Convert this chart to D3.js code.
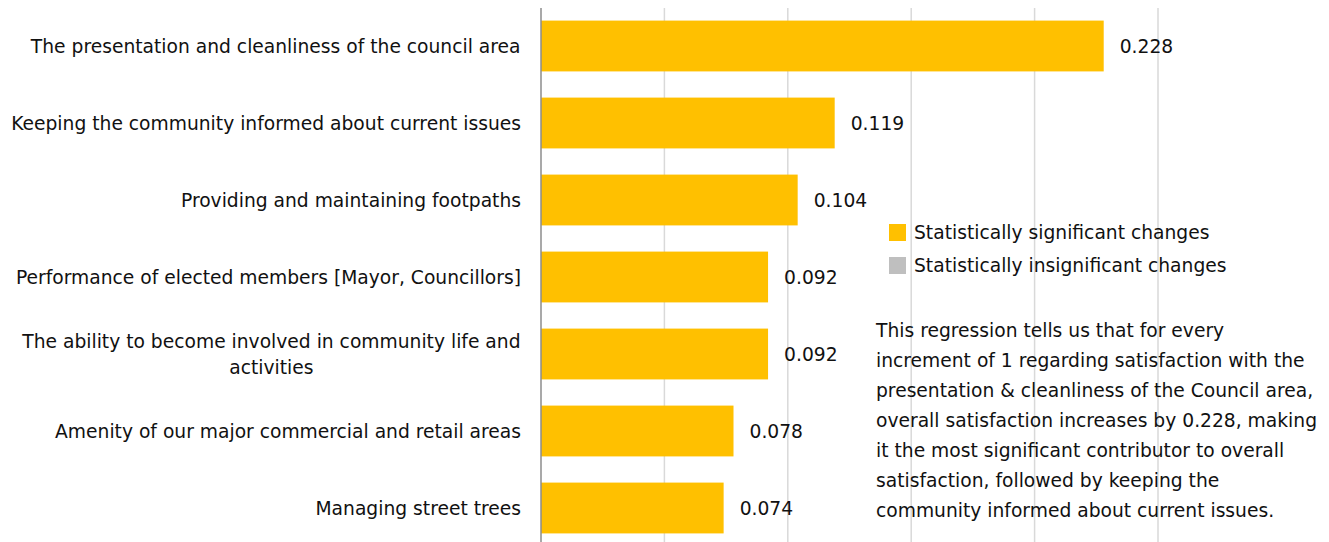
<!DOCTYPE html>
<html>
<head>
<meta charset="utf-8">
<script src="https://cdn.jsdelivr.net/npm/d3@7"></script>
<style>
  html, body { margin: 0; padding: 0; background: #fff; }
  svg text { font-family: "DejaVu Sans", sans-serif; fill: #111; }
</style>
</head>
<body>
<svg id="chart" width="1329" height="542"></svg>
<script>
// Regression coefficients for each service attribute
const categories = [
  ["The presentation and cleanliness of the council area"],
  ["Keeping the community informed about current issues"],
  ["Providing and maintaining footpaths"],
  ["Performance of elected members [Mayor, Councillors]"],
  ["The ability to become involved in community life and", "activities"],
  ["Amenity of our major commercial and retail areas"],
  ["Managing street trees"]
];
const values = [0.228, 0.119, 0.104, 0.092, 0.092, 0.078, 0.074];
const significant = [true, true, true, true, true, true, true];
const gridTicks = [0.05, 0.1, 0.15, 0.2, 0.25];
const legendItems = ["Statistically significant changes", "Statistically insignificant changes"];
const noteLines = [
  "This regression tells us that for every",
  "increment of 1 regarding satisfaction with the",
  "presentation & cleanliness of the Council area,",
  "overall satisfaction increases by 0.228, making",
  "it the most significant contributor to overall",
  "satisfaction, followed by keeping the",
  "community informed about current issues."
];

const colSig = "#ffc000", colInsig = "#bfbfbf";
const svg = d3.select("#chart");
const fs = 18.7;

const x = d3.scaleLinear().domain([0, 0.25]).range([541, 1158]);
const y = d3.scaleBand().domain(d3.range(values.length)).range([7.5, 546.5]).paddingInner(0.34).paddingOuter(0.17);

// gridlines
svg.append("g").selectAll("line").data(gridTicks).join("line")
  .attr("x1", d => x(d)).attr("x2", d => x(d))
  .attr("y1", 8).attr("y2", 542)
  .attr("stroke", "#d9d9d9").attr("stroke-width", 1.5);

// bars
svg.append("g").selectAll("rect").data(values).join("rect")
  .attr("x", x(0)).attr("y", (d, i) => y(i))
  .attr("width", d => x(d) - x(0)).attr("height", y.bandwidth())
  .attr("fill", (d, i) => significant[i] ? colSig : colInsig);

// category axis line
svg.append("line").attr("x1", x(0)).attr("x2", x(0)).attr("y1", 8).attr("y2", 542)
  .attr("stroke", "#8c8c8c").attr("stroke-width", 1.5);

// value labels
svg.append("g").selectAll("text").data(values).join("text")
  .attr("x", d => x(d) + 16).attr("y", (d, i) => y(i) + y.bandwidth() / 2)
  .attr("dy", "0.35em").attr("font-size", fs)
  .text(d => d3.format(".3f")(d));

// category labels
const lh = 26;
const cat = svg.append("g").selectAll("text").data(categories).join("text")
  .attr("text-anchor", "middle").attr("font-size", fs)
  .attr("y", (d, i) => y(i) + y.bandwidth() / 2 - (d.length - 1) * lh / 2);
cat.each(function(lines) {
  const t = d3.select(this);
  lines.forEach((ln, k) => t.append("tspan").attr("x", 0).attr("dy", k === 0 ? "0.35em" : lh).text(ln));
});
// right-align block, centre multi-line entries within their widest line
cat.each(function() {
  const w = this.getBBox().width;
  d3.select(this).attr("transform", `translate(${521 - w / 2},0)`);
});

// legend
const leg = svg.append("g").attr("transform", "translate(889,224)");
legendItems.forEach((s, i) => {
  leg.append("rect").attr("x", 0).attr("y", i * 33).attr("width", 17).attr("height", 17)
    .attr("fill", i === 0 ? colSig : colInsig);
  leg.append("text").attr("x", 25).attr("y", i * 33 + 8.5).attr("dy", "0.35em")
    .attr("font-size", fs).text(s);
});

// explanatory note
svg.append("g").selectAll("text").data(noteLines).join("text")
  .attr("x", 876).attr("y", (d, i) => 330 + i * 30).attr("dy", "0.35em")
  .attr("font-size", fs).text(d => d);
</script>
</body>
</html>
